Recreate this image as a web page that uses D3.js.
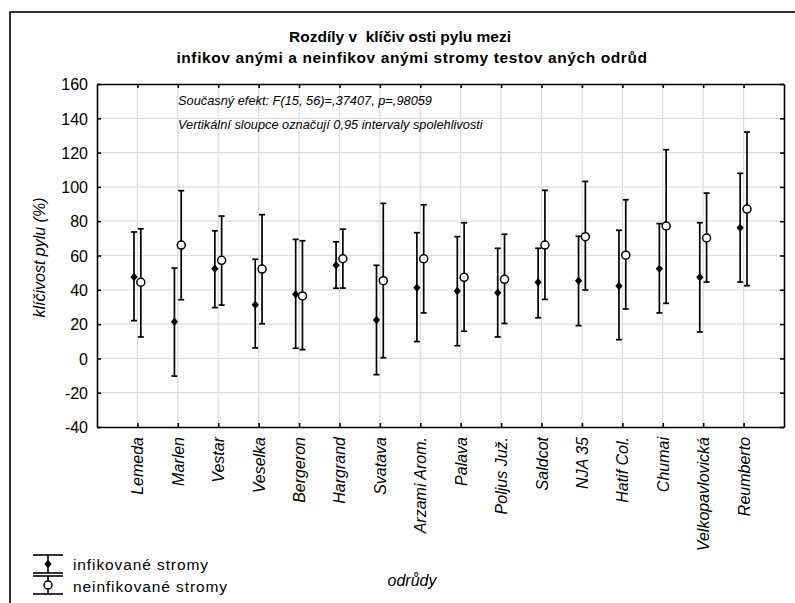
<!DOCTYPE html>
<html>
<head>
<meta charset="utf-8">
<script src="https://cdn.jsdelivr.net/npm/d3@7"></script>
<style>
  html, body { margin: 0; padding: 0; background: #fff; }
  svg { display: block; font-family: "Liberation Sans", Arial, sans-serif; }
</style>
</head>
<body>
<svg id="chart" width="795" height="603"></svg>
<script>
// Varieties (odrůdy)
const categories = ["Lemeda", "Marlen", "Vestar", "Veselka", "Bergeron", "Hargrand", "Svatava",
  "Arzami Arom.", "Palava", "Poljus Juž.", "Saldcot", "NJA 35", "Hatif Col.", "Chumai",
  "Velkopavlovická", "Reumberto"];

// Infected trees: mean and 95% confidence limits
const infMean = [47.5, 21.4, 52.3, 31.3, 37.4, 54.3, 22.4, 41.2, 39.3, 38.3, 44.4, 45.3, 42.2, 52.3, 47.3, 76.2];
const infLow  = [22.0, -10.3, 29.6, 6.1, 5.9, 40.9, -9.5, 9.8, 7.4, 12.5, 23.7, 19.1, 10.9, 26.5, 15.4, 44.5];
const infHigh = [73.7, 52.7, 74.4, 57.8, 69.4, 68.0, 54.3, 73.3, 71.0, 64.2, 64.2, 71.2, 74.7, 78.6, 79.1, 107.9];

// Non-infected trees: mean and 95% confidence limits
const nonMean = [44.4, 66.1, 57.2, 52.1, 36.4, 58.1, 45.3, 58.1, 47.3, 46.1, 66.1, 71.0, 60.2, 77.2, 70.2, 87.1];
const nonLow  = [12.5, 34.2, 31.1, 20.2, 5.1, 41.0, 0.4, 26.5, 15.8, 20.4, 34.4, 39.9, 28.8, 32.1, 44.5, 42.4];
const nonHigh = [75.6, 97.8, 83.0, 83.8, 68.6, 75.3, 90.4, 89.6, 79.1, 72.4, 98.0, 103.2, 92.5, 121.7, 96.4, 132.0];

const yTicks = [-40, -20, 0, 20, 40, 60, 80, 100, 120, 140, 160];

const titleLines = ["Rozdíly v  klíčivosti pylu mezi", "infikovanými a neinfikovanými stromy testovaných odrůd"];
const noteLines = ["Současný efekt: F(15, 56)=,37407, p=,98059",
                   "Vertikální sloupce označují 0,95 intervaly spolehlivosti"];
const yLabel = "klíčivost pylu (%)";
const xLabel = "odrůdy";
const seriesNames = ["infikované stromy", "neinfikované stromy"];

const svg = d3.select("#chart");
const P = { left: 97, right: 784, top: 84, bottom: 427 };

const x = d3.scalePoint().domain(categories).range([P.left, P.right]).padding(1);
const y = d3.scaleLinear().domain([-40, 160]).range([P.bottom, P.top]);
const offset = 3.4;

// outer frame
svg.append("rect").attr("x", 10).attr("y", 12).attr("width", 800).attr("height", 600)
  .attr("fill", "none").attr("stroke", "#000").attr("stroke-width", 1.6);

// title: the bold face leaves a wide gap after each "v", reproduced with tspans
const title = svg.append("g").attr("font-weight", "bold").attr("font-size", 15.5)
  .attr("text-anchor", "middle");
titleLines.forEach((line, i) => {
  const t = title.append("text")
    .attr("x", i === 0 ? 400 : 412).attr("y", 42 + i * 21)
    .attr("letter-spacing", i === 0 ? 0 : 0.6)
    .style("white-space", "pre");
  const parts = line.split(/(?<=v)(?=[a-zýá])/);
  parts.forEach((p, j) => {
    t.append("tspan").attr("dx", j === 0 ? 0 : (i === 0 ? 4 : 5)).text(p);
  });
});

// grid
const grid = svg.append("g").attr("stroke", "#dcdcdc").attr("stroke-width", 1.2);
grid.selectAll("line.h").data(yTicks.slice(1, -1)).join("line")
  .attr("x1", P.left).attr("x2", P.right)
  .attr("y1", d => y(d)).attr("y2", d => y(d));
grid.selectAll("line.v").data(categories).join("line")
  .attr("x1", d => x(d)).attr("x2", d => x(d))
  .attr("y1", P.top).attr("y2", P.bottom);

// axes with inward ticks on all four sides
const axL = d3.axisLeft(y).tickValues(yTicks).tickSizeInner(-4).tickSizeOuter(0).tickPadding(9)
  .tickFormat(d => String(d));
const axR = d3.axisRight(y).tickValues(yTicks).tickSizeInner(-4).tickSizeOuter(0).tickFormat("");
const axB = d3.axisBottom(x).tickSizeInner(-4).tickSizeOuter(0).tickFormat("");
const axT = d3.axisTop(x).tickSizeInner(-4).tickSizeOuter(0).tickFormat("");

function styleAxis(g) {
  g.selectAll("path, line").attr("stroke", "#000").attr("stroke-width", 1.6);
  g.selectAll("text").attr("font-size", 16).attr("fill", "#000")
    .attr("font-family", "Liberation Sans, Arial, sans-serif");
}
svg.append("g").attr("transform", `translate(${P.left},0)`).call(axL).call(styleAxis)
  .selectAll("text").attr("dy", "0.36em");
svg.append("g").attr("transform", `translate(${P.right},0)`).call(axR).call(styleAxis);
svg.append("g").attr("transform", `translate(0,${P.bottom})`).call(axB).call(styleAxis);
svg.append("g").attr("transform", `translate(0,${P.top})`).call(axT).call(styleAxis);

// category labels, rotated
svg.append("g").selectAll("text").data(categories).join("text")
  .attr("transform", d => `translate(${x(d) + 6},${P.bottom + 10}) rotate(-90)`)
  .attr("text-anchor", "end")
  .attr("font-style", "italic")
  .attr("font-size", 16)
  .text(d => d);

// axis titles
svg.append("text")
  .attr("transform", `translate(45,${(P.top + P.bottom) / 2 + 2}) rotate(-90)`)
  .attr("text-anchor", "middle").attr("font-style", "italic").attr("font-size", 16)
  .text(yLabel);
svg.append("text").attr("x", 412).attr("y", 586).attr("text-anchor", "middle")
  .attr("font-style", "italic").attr("font-size", 16).text(xLabel);

// statistics note
svg.append("g").selectAll("text").data(noteLines).join("text")
  .attr("x", 178).attr("y", (d, i) => 105 + i * 24)
  .attr("font-style", "italic").attr("font-size", 12.8)
  .text(d => d);

// error bars
const capW = 3;
function errorBar(g, cx, lo, hi) {
  g.append("line").attr("x1", cx).attr("x2", cx).attr("y1", lo).attr("y2", hi);
  g.append("line").attr("x1", cx - capW).attr("x2", cx + capW).attr("y1", lo).attr("y2", lo);
  g.append("line").attr("x1", cx - capW).attr("x2", cx + capW).attr("y1", hi).attr("y2", hi);
}
function diamond(g, cx, cy) {
  g.append("path").attr("d", `M${cx},${cy - 4.2}L${cx + 3.6},${cy}L${cx},${cy + 4.2}L${cx - 3.6},${cy}Z`)
    .attr("fill", "#000").attr("stroke", "none");
}
function circle(g, cx, cy) {
  g.append("circle").attr("cx", cx).attr("cy", cy).attr("r", 4)
    .attr("fill", "#fff").attr("stroke", "#000").attr("stroke-width", 1.5);
}

const bars = svg.append("g").attr("stroke", "#000").attr("stroke-width", 1.7);
categories.forEach((c, i) => {
  errorBar(bars, x(c) - offset, y(infLow[i]), y(infHigh[i]));
  errorBar(bars, x(c) + offset, y(nonLow[i]), y(nonHigh[i]));
});
const marks = svg.append("g");
categories.forEach((c, i) => {
  diamond(marks, x(c) - offset, y(infMean[i]));
  circle(marks, x(c) + offset, y(nonMean[i]));
});

// legend
const lg = svg.append("g").attr("stroke", "#000").attr("stroke-width", 1.6);
function legendBar(cy, half) {
  lg.append("line").attr("x1", 48).attr("x2", 48).attr("y1", cy - half).attr("y2", cy + half);
  lg.append("line").attr("x1", 33).attr("x2", 63).attr("y1", cy - half).attr("y2", cy - half);
  lg.append("line").attr("x1", 33).attr("x2", 63).attr("y1", cy + half).attr("y2", cy + half);
}
legendBar(564, 9);
legendBar(585, 9);
diamond(svg, 48, 564);
circle(svg, 48, 585);
svg.append("g").selectAll("text").data(seriesNames).join("text")
  .attr("x", 73).attr("y", (d, i) => 570 + i * 21.5)
  .attr("font-size", 15.5).attr("letter-spacing", 0.9)
  .text(d => d);
</script>
</body>
</html>
